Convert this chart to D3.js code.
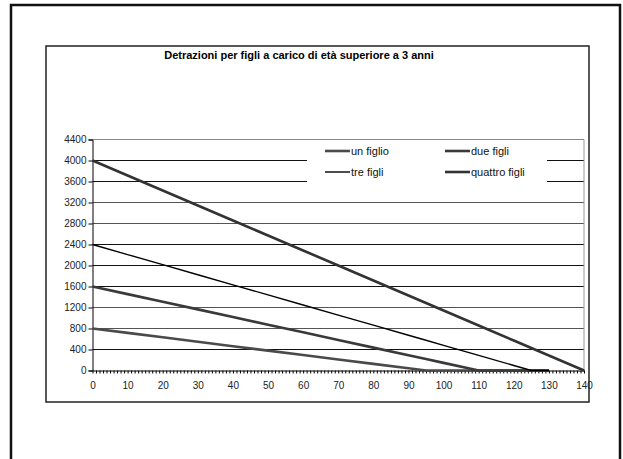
<!DOCTYPE html>
<html>
<head>
<meta charset="utf-8">
<script src="https://cdn.jsdelivr.net/npm/d3@7"></script>
<style>
  body { margin: 0; background: #fff; }
  text { font-family: "Liberation Sans", Arial, sans-serif; }
</style>
</head>
<body>
<script>
// Data (reddito in migliaia)
var xValues   = [0, 10, 20, 30, 40, 50, 60, 70, 80, 90, 95, 100, 110, 120, 125, 130, 140];
var unFiglio  = [800, 716, 632, 547, 463, 379, 295, 211, 126, 42, 0, 0, 0, 0, 0, 0, null];
var dueFigli  = [1600, 1455, 1309, 1164, 1018, 873, 727, 582, 436, 291, 218, 145, 0, 0, 0, 0, null];
var treFigli  = [2400, 2208, 2016, 1824, 1632, 1440, 1248, 1056, 864, 672, 576, 480, 288, 96, 0, 0, null];
var quattroFigli = [4000, 3714, 3429, 3143, 2857, 2571, 2286, 2000, 1714, 1429, 1286, 1143, 857, 571, 429, 286, 0];
var seriesNames = ["un figlio", "due figli", "tre figli", "quattro figli"];
var xTicks = [0, 10, 20, 30, 40, 50, 60, 70, 80, 90, 100, 110, 120, 130, 140];
var yTicks = [0, 400, 800, 1200, 1600, 2000, 2400, 2800, 3200, 3600, 4000, 4400];

var series = [unFiglio, dueFigli, treFigli, quattroFigli];
var colors = ["#4a4a4a", "#3a3a3a", "#000", "#333"];
var widths = [2.6, 2.6, 1.4, 2.6];

svg = d3.select("body").append("svg")
    .attr("width", 623)
    .attr("height", 459);

// page frame and chart frame
svg.append("rect")
   .attr("x", 11).attr("y", 5)
   .attr("width", 609).attr("height", 480)
   .attr("fill", "none").attr("stroke", "#111").attr("stroke-width", 2.5);
svg.append("rect")
   .attr("x", 46).attr("y", 46)
   .attr("width", 543).attr("height", 356)
   .attr("fill", "none").attr("stroke", "#222").attr("stroke-width", 1.5);

// title
svg.append("text")
   .attr("x", 299).attr("y", 59)
   .attr("text-anchor", "middle")
   .style("font-size", "11px")
   .style("font-weight", "bold")
   .text("Detrazioni per figli a carico di età superiore a 3 anni");

x = d3.scaleLinear().domain([0, 140]).range([92.5, 584]);
y = d3.scaleLinear().domain([0, 4400]).range([370.5, 139.5]);

// gridlines
svg.append("g")
   .selectAll("line")
   .data(yTicks.filter(d => d > 0))
   .join("line")
   .attr("x1", x(0)).attr("x2", x(140))
   .attr("y1", d => y(d)).attr("y2", d => y(d))
   .attr("stroke", d => d === 4400 ? "#888" : (d === 800 || d === 1200 || d === 2800 || d === 3200 ? "#555" : "#111"))
   .attr("stroke-width", 1);

// right border of plot area
svg.append("line")
   .attr("x1", x(140)).attr("x2", x(140))
   .attr("y1", y(4400)).attr("y2", y(0))
   .attr("stroke", "#999");

// legend background hides the gridlines
svg.append("rect")
   .attr("x", 307).attr("y", 141)
   .attr("width", 240).attr("height", 48)
   .attr("fill", "#fff");

// y axis
yAxis = svg.append("g")
   .attr("transform", `translate(${x(0)},0)`)
   .call(d3.axisLeft(y).tickValues(yTicks).tickSize(4).tickPadding(2).tickFormat(d3.format("d")));
yAxis.select(".domain").attr("stroke", "#000");
yAxis.selectAll("text").style("font-size", "10px").attr("fill", "#222");

// x axis: minor ticks every unit, labels every 10
svg.append("g")
   .attr("transform", `translate(0,${y(0)})`)
   .call(d3.axisBottom(x).tickValues(d3.range(0, 141)).tickSize(3).tickFormat(""))
   .call(g => g.select(".domain").remove())
   .selectAll("line").attr("stroke", "#000").attr("stroke-width", 1);
xAxis = svg.append("g")
   .attr("transform", `translate(0,${y(0)})`)
   .call(d3.axisBottom(x).tickValues(xTicks).tickSize(0).tickPadding(11));
xAxis.select(".domain").attr("stroke", "#000");
xAxis.selectAll("text").style("font-size", "10px").attr("fill", "#222");

// lines
line = d3.line()
   .defined(d => d[1] !== null)
   .x(d => x(d[0]))
   .y(d => y(d[1]));

series.forEach(function(s, i) {
    svg.append("path")
       .datum(xValues.map((v, j) => [v, s[j]]))
       .attr("fill", "none")
       .attr("stroke", colors[i])
       .attr("stroke-width", widths[i])
       .attr("d", line);
});

// legend
legendPos = [[325, 151], [445, 151], [325, 172], [445, 172]];
seriesNames.forEach(function(name, i) {
    g = svg.append("g").attr("transform", `translate(${legendPos[i][0]},${legendPos[i][1]})`);
    g.append("line")
     .attr("x1", 0).attr("x2", 25)
     .attr("stroke", colors[i])
     .attr("stroke-width", widths[i]);
    g.append("text")
     .attr("x", 26).attr("y", 4)
     .style("font-size", "11px")
     .attr("fill", "#111")
     .text(name);
});
</script>
</body>
</html>
